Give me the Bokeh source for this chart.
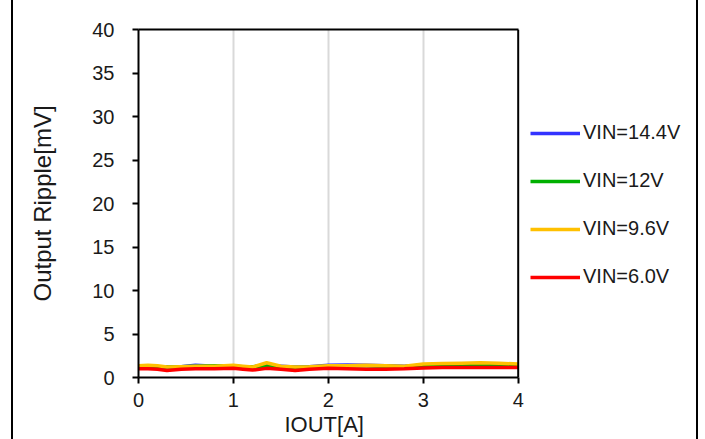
from bokeh.plotting import figure
from bokeh.models import Legend, LegendItem, FixedTicker, Range1d, LinearAxis, Span, Title
from bokeh.embed import file_html
from bokeh.resources import INLINE

iout = [0, 0.1, 0.2, 0.3, 0.45, 0.6, 0.8, 1.0, 1.1, 1.2, 1.35, 1.5, 1.65, 1.8, 2.0, 2.2, 2.4, 2.6, 2.8, 3.0, 3.2, 3.4, 3.6, 3.8, 4.0]
vin_14_4 = [1.25, 1.3, 1.25, 1.2, 1.25, 1.4, 1.3, 1.3, 1.25, 1.2, 1.4, 1.3, 1.2, 1.25, 1.4, 1.45, 1.4, 1.35, 1.3, 1.4, 1.45, 1.45, 1.45, 1.45, 1.4]
vin_12 = [1.2, 1.35, 1.25, 1.2, 1.25, 1.3, 1.35, 1.3, 1.2, 1.25, 1.3, 1.25, 1.15, 1.2, 1.3, 1.35, 1.35, 1.3, 1.25, 1.4, 1.45, 1.45, 1.45, 1.45, 1.4]
vin_9_6 = [1.35, 1.4, 1.35, 1.2, 1.25, 1.3, 1.3, 1.4, 1.3, 1.2, 1.7, 1.3, 1.2, 1.25, 1.35, 1.35, 1.4, 1.35, 1.3, 1.55, 1.6, 1.65, 1.7, 1.65, 1.55]
vin_6_0 = [1.0, 1.0, 0.95, 0.8, 0.95, 1.0, 1.0, 1.05, 0.95, 0.85, 1.05, 0.95, 0.8, 0.95, 1.05, 1.0, 0.95, 0.95, 1.0, 1.1, 1.15, 1.15, 1.15, 1.15, 1.15]

series_names = ["VIN=14.4V", "VIN=12V", "VIN=9.6V", "VIN=6.0V"]
series_vals = [vin_14_4, vin_12, vin_9_6, vin_6_0]
series_colors = ["#3333FF", "#00B000", "#FFC000", "#FF0000"]
x_ticks = [0, 1, 2, 3, 4]
y_ticks = [0, 5, 10, 15, 20, 25, 30, 35, 40]
X_MAX = 4
Y_MAX = 40

FONT = "Liberation Sans"
TXT = "#1a1a1a"

# plot area: 377 px for 0..4, frame extends to the right edge to host the legend
FRAME_PX = 558
AREA_PX = 377
p = figure(width=687, height=439, output_backend="svg", toolbar_location=None,
           x_range=Range1d(0, X_MAX * FRAME_PX / AREA_PX), y_range=Range1d(0, Y_MAX),
           x_axis_location=None,
           min_border_left=125, min_border_right=0, min_border_top=29, min_border_bottom=62)
p.styles = {"border-left": "2px solid black", "border-right": "2px solid black",
            "box-sizing": "border-box", "margin-left": "11px"}
p.outline_line_color = None

xaxis = LinearAxis(bounds=(0, X_MAX), ticker=FixedTicker(ticks=x_ticks))
p.add_layout(xaxis, "below")
top = LinearAxis(bounds=(0, X_MAX), ticker=FixedTicker(ticks=[]),
                 axis_line_color="black", axis_line_width=2)
p.add_layout(top, "above")
p.add_layout(Span(location=X_MAX, dimension="height", line_color="black", line_width=2))

p.ygrid.grid_line_color = None
p.xgrid.grid_line_color = "#D9D9D9"
p.xgrid.grid_line_width = 2
p.xgrid.ticker = FixedTicker(ticks=x_ticks[1:-1])
p.yaxis.ticker = FixedTicker(ticks=y_ticks)
for ax in (xaxis, p.yaxis[0]):
    ax.axis_line_color = "black"
    ax.axis_line_width = 2
    ax.major_tick_line_width = 2
    ax.major_tick_out = 6
    ax.major_tick_in = 0
    ax.minor_tick_line_color = None
    ax.major_label_text_font = FONT
    ax.major_label_text_font_size = "20px"
    ax.major_label_text_color = TXT
    ax.axis_label_text_font = FONT
    ax.axis_label_text_font_style = "normal"
    ax.axis_label_text_font_size = "24px"
    ax.axis_label_text_color = TXT
p.yaxis.axis_label = "Output Ripple[mV]"
p.yaxis.major_label_standoff = 18
p.yaxis.axis_label_standoff = 33
xaxis.major_label_standoff = 9

p.add_layout(Title(text="IOUT[A]", align="left", offset=146, standoff=0,
                   text_font=FONT, text_font_size="22px", text_font_style="normal",
                   text_color=TXT), "below")

items = []
for name, vals, col in zip(series_names, series_vals, series_colors):
    r = p.line(iout, vals, line_color=col, line_width=3.5)
    items.append(LegendItem(label=name, renderers=[r]))

legend = Legend(items=items, location=(392, 89), padding=0, margin=0,
                glyph_width=50, glyph_height=20, label_height=20, spacing=25,
                label_standoff=3, label_text_font=FONT, label_text_font_size="20px",
                label_text_color=TXT, border_line_alpha=0, background_fill_alpha=0)
p.add_layout(legend, "center")

open("out.html", "w").write(file_html(p, INLINE))
